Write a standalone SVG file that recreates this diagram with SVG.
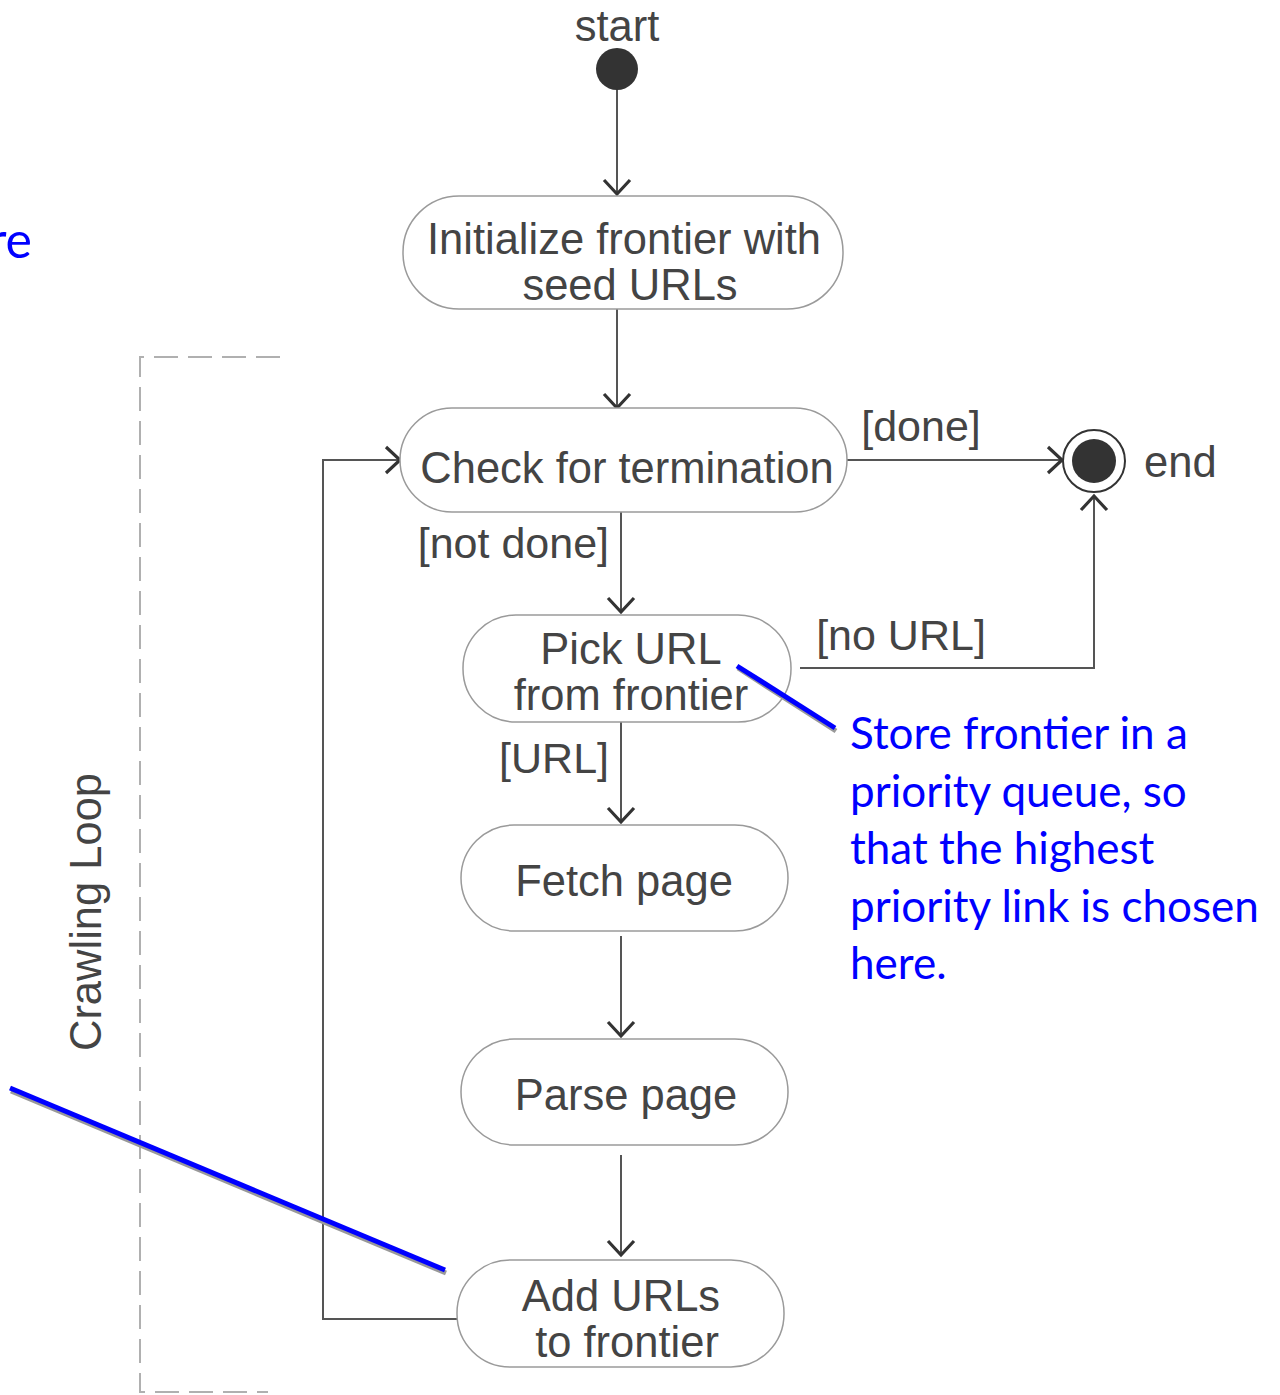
<svg xmlns="http://www.w3.org/2000/svg" width="1280" height="1395" viewBox="0 0 1280 1395">
  <style>
    .node { fill: #ffffff; stroke: #9a9a9a; stroke-width: 1.5; }
    .lbl { font-family: "Liberation Sans", Arial, sans-serif; font-size: 43.5px; fill: #444444; text-anchor: middle; }
    .guard { font-family: "Liberation Sans", Arial, sans-serif; font-size: 43px; fill: #444444; }
    .flow { fill: none; stroke: #555555; stroke-width: 2; }
    .note { font-family: Lato, "Open Sans", sans-serif; font-size: 44px; fill: #0000ff; }
    .pointer { stroke: #0000ff; stroke-width: 5; }
    .pointer-shadow { stroke: #999999; stroke-width: 5; }
  </style>
  <defs>
    <marker id="arrow" markerWidth="22" markerHeight="32" refX="17" refY="15" orient="auto" markerUnits="userSpaceOnUse">
      <path d="M3,2 L17,15 L3,28" fill="none" stroke="#333333" stroke-width="3.2"/>
    </marker>
  </defs>
  <rect width="1280" height="1395" fill="#ffffff"/>

  <!-- crawling loop frame -->
  <g id="crawling-loop">
    <path d="M280,357 H140 V1392 H268" fill="none" stroke="#b0b0b0" stroke-width="2" stroke-dasharray="24,10"/>
    <text class="lbl" transform="translate(101,912) rotate(-90)">Crawling Loop</text>
  </g>

  <!-- connectors -->
  <g id="connectors">
    <line class="flow" x1="617" y1="90" x2="617" y2="194" marker-end="url(#arrow)"/>
    <line class="flow" x1="617" y1="309" x2="617" y2="408" marker-end="url(#arrow)"/>
    <line class="flow" x1="847" y1="460" x2="1062" y2="460" marker-end="url(#arrow)"/>
    <line class="flow" x1="621" y1="512" x2="621" y2="612" marker-end="url(#arrow)"/>
    <path class="flow" d="M800,668 H1094 V496" marker-end="url(#arrow)"/>
    <line class="flow" x1="621" y1="722" x2="621" y2="822" marker-end="url(#arrow)"/>
    <line class="flow" x1="621" y1="936" x2="621" y2="1036" marker-end="url(#arrow)"/>
    <line class="flow" x1="621" y1="1155" x2="621" y2="1255" marker-end="url(#arrow)"/>
    <path class="flow" d="M457,1319 H323 V460 H400" marker-end="url(#arrow)"/>
    <text class="guard" x="921" y="441" text-anchor="middle">[done]</text>
    <text class="guard" x="609" y="558" text-anchor="end">[not done]</text>
    <text class="guard" x="901" y="650" text-anchor="middle">[no URL]</text>
    <text class="guard" x="609" y="773" text-anchor="end">[URL]</text>
  </g>

  <g id="start">
    <text class="lbl" x="617" y="41">start</text>
    <circle cx="617" cy="69" r="21" fill="#333333"/>
  </g>

  <g id="init">
    <rect class="node" x="403" y="196" width="440" height="113" rx="56"/>
    <text class="lbl" x="624" y="254">Initialize frontier with</text>
    <text class="lbl" x="630" y="300">seed URLs</text>
  </g>

  <g id="check">
    <rect class="node" x="400" y="408" width="447" height="104" rx="52"/>
    <text class="lbl" x="627" y="483">Check for termination</text>
  </g>

  <g id="end">
    <circle cx="1094" cy="461" r="31" fill="#ffffff" stroke="#333333" stroke-width="2"/>
    <circle cx="1094" cy="461" r="22" fill="#333333"/>
    <text class="lbl" x="1144" y="477" style="text-anchor:start">end</text>
  </g>

  <g id="pick">
    <rect class="node" x="463" y="615" width="328" height="107" rx="53"/>
    <text class="lbl" x="631" y="664">Pick URL</text>
    <text class="lbl" x="631" y="710">from frontier</text>
  </g>

  <g id="fetch">
    <rect class="node" x="461" y="825" width="327" height="106" rx="53"/>
    <text class="lbl" x="624" y="896">Fetch page</text>
  </g>

  <g id="parse">
    <rect class="node" x="461" y="1039" width="327" height="106" rx="53"/>
    <text class="lbl" x="626" y="1110">Parse page</text>
  </g>

  <g id="add">
    <rect class="node" x="457" y="1260" width="327" height="107" rx="53"/>
    <text class="lbl" x="621" y="1311">Add URLs</text>
    <text class="lbl" x="627" y="1357">to frontier</text>
  </g>

  <!-- annotations -->
  <g id="note-priority">
    <line class="pointer-shadow" x1="738" y1="668" x2="836" y2="731"/>
    <line class="pointer" x1="737" y1="666" x2="835" y2="728"/>
    <text class="note" x="850" y="749">Store frontier in a</text>
    <text class="note" x="850" y="807">priority queue, so</text>
    <text class="note" x="850" y="864">that the highest</text>
    <text class="note" x="850" y="922">priority link is chosen</text>
    <text class="note" x="850" y="979">here.</text>
  </g>

  <g id="note-left">
    <text class="note" x="32" y="258" text-anchor="end" style="font-size:50px">re</text>
    <line class="pointer-shadow" x1="11" y1="1091" x2="446" y2="1273"/>
    <line class="pointer" x1="10" y1="1088" x2="445" y2="1270"/>
  </g>
</svg>
